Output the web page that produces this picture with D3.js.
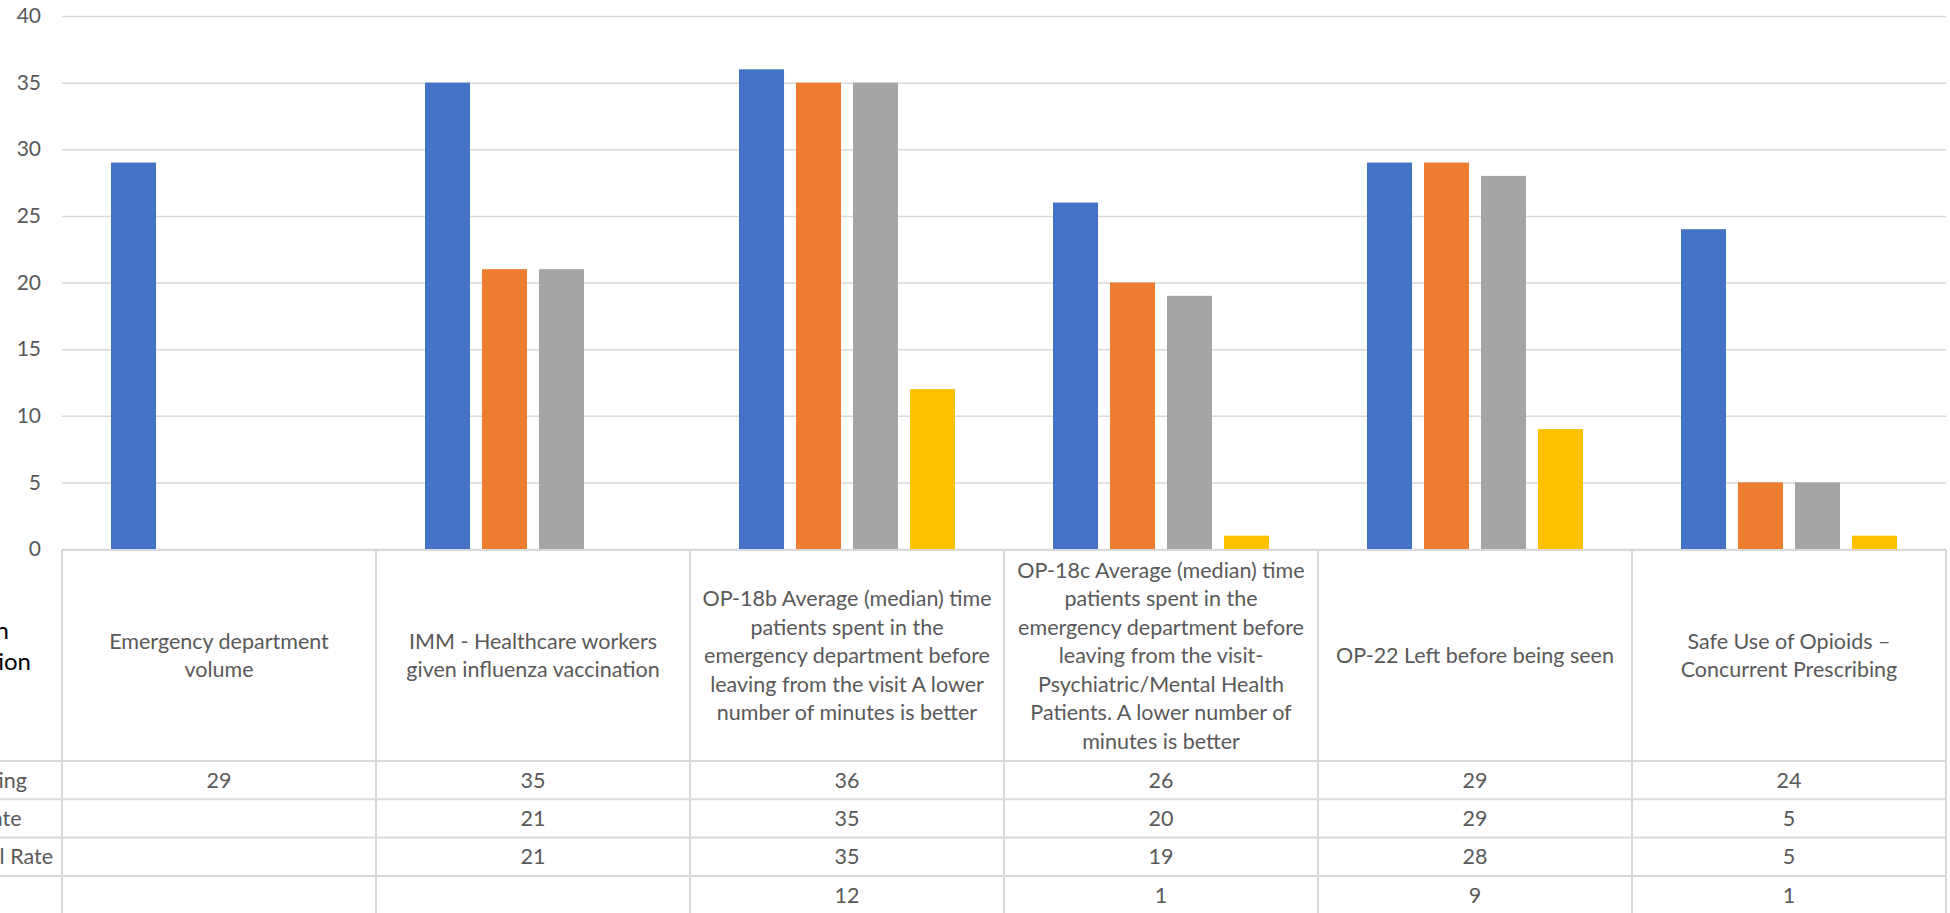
<!DOCTYPE html>
<html>
<head>
<meta charset="utf-8">
<script src="https://cdn.jsdelivr.net/npm/d3@7"></script>
<style>
  body { margin: 0; background: #fff; }
  svg { display: block; }
  text { font-family: Lato, "Open Sans", sans-serif; }
</style>
</head>
<body>
<div id="chart"></div>
<script>
// categories (header lines as wrapped in the data table)
const categories = [
  "Emergency department volume",
  "IMM - Healthcare workers given influenza vaccination",
  "OP-18b Average (median) time patients spent in the emergency department before leaving from the visit A lower number of minutes is better",
  "OP-18c Average (median) time patients spent in the emergency department before leaving from the visit-Psychiatric/Mental Health Patients.  A lower number of minutes is better",
  "OP-22 Left before being seen",
  "Safe Use of Opioids – Concurrent Prescribing"
];
const categoryLines = [
  ["Emergency department", "volume"],
  ["IMM - Healthcare workers", "given influenza vaccination"],
  ["OP-18b Average (median) time", "patients spent in the", "emergency department before", "leaving from the visit A lower", "number of minutes is better"],
  ["OP-18c Average (median) time", "patients spent in the", "emergency department before", "leaving from the visit-", "Psychiatric/Mental Health", "Patients.  A lower number of", "minutes is better"],
  ["OP-22 Left before being seen"],
  ["Safe Use of Opioids –", "Concurrent Prescribing"]
];

const seriesNames = ["Our Rating", "State Rate", "National Rate", "Best"];
const ourRating    = [29, 35, 36, 26, 29, 24];
const stateRate    = [null, 21, 35, 20, 29, 5];
const nationalRate = [null, 21, 35, 19, 28, 5];
const bestRate     = [null, null, 12, 1, 9, 1];
const yTicks = [0, 5, 10, 15, 20, 25, 30, 35, 40];
const headerTitle = ["Measure Domain", "Measure Description"];

const seriesColors = ["#4472C4", "#ED7D31", "#A5A5A5", "#FFC000"];
const seriesValues = [ourRating, stateRate, nationalRate, bestRate];

const width = 1950, height = 913;
const plotLeft = 62, plotRight = 1946;
const tableTop = 550, headerBottom = 761, rowH = 38.3;
const gridColor = "#D9D9D9";
const textColor = "#595959";

const svg = d3.select("#chart").append("svg")
  .attr("width", width)
  .attr("height", height);

const y = d3.scaleLinear().domain([0, 40]).range([549, 16]);
const x0 = d3.scaleBand().domain(categories).range([plotLeft, plotRight]);
const x1 = d3.scaleBand().domain(seriesNames)
  .range([0, x0.bandwidth()])
  .paddingInner(0.21)
  .paddingOuter(0.86);

// gridlines + y labels
const yAxis = svg.append("g")
  .attr("transform", `translate(${plotLeft},0)`)
  .call(d3.axisLeft(y).tickValues(yTicks).tickSize(-(plotRight - plotLeft)).tickPadding(21));
yAxis.select(".domain").remove();
yAxis.selectAll(".tick line").attr("stroke", gridColor).attr("stroke-width", 1.5);
yAxis.selectAll(".tick text")
  .attr("fill", textColor)
  .style("font-size", "21px");

// bars
const barData = [];
seriesNames.forEach((s, si) => {
  categories.forEach((c, ci) => {
    const v = seriesValues[si][ci];
    if (v != null) barData.push({ series: s, cat: c, value: v, color: seriesColors[si] });
  });
});

svg.append("g").selectAll("rect")
  .data(barData)
  .enter()
  .append("rect")
  .attr("x", d => x0(d.cat) + x1(d.series))
  .attr("y", d => y(d.value))
  .attr("width", x1.bandwidth())
  .attr("height", d => y(0) - y(d.value))
  .attr("fill", d => d.color);

// data table
const table = svg.append("g");
const rowLines = d3.range(seriesNames.length + 1).map(i => headerBottom + i * rowH);

table.append("line")
  .attr("x1", plotLeft).attr("x2", plotRight)
  .attr("y1", tableTop).attr("y2", tableTop);
table.selectAll(".hrow")
  .data(rowLines)
  .enter()
  .append("line")
  .attr("x1", 0).attr("x2", plotRight)
  .attr("y1", d => d).attr("y2", d => d);
table.selectAll(".vcol")
  .data(categories.map(c => x0(c)).concat([plotRight]))
  .enter()
  .append("line")
  .attr("x1", d => d).attr("x2", d => d)
  .attr("y1", tableTop).attr("y2", height);
table.selectAll("line").attr("stroke", gridColor).attr("stroke-width", 2);

// header labels
const lineH = 28.5;
const headerMid = (tableTop + headerBottom) / 2;
categories.forEach((c, ci) => {
  const lines = categoryLines[ci];
  const top = headerMid - (lines.length - 1) * lineH / 2;
  table.append("text")
    .attr("text-anchor", "middle")
    .attr("fill", textColor)
    .style("font-size", "21.5px")
    .selectAll("tspan")
    .data(lines)
    .enter()
    .append("tspan")
    .attr("x", x0(c) + x0.bandwidth() / 2)
    .attr("y", (d, i) => top + i * lineH)
    .attr("dy", "0.35em")
    .text(d => d);
});

// values
seriesNames.forEach((s, si) => {
  categories.forEach((c, ci) => {
    const v = seriesValues[si][ci];
    if (v == null) return;
    table.append("text")
      .attr("x", x0(c) + x0.bandwidth() / 2)
      .attr("y", rowLines[si] + rowH / 2)
      .attr("dy", "0.35em")
      .attr("text-anchor", "middle")
      .attr("fill", textColor)
      .style("font-size", "21.5px")
      .text(v);
  });
});

// row header column (mostly outside the visible area, like the reference crop)
const probe = table.append("text").style("font-size", "21.5px").text(seriesNames[2]);
const labelStart = 53 - probe.node().getComputedTextLength();
probe.remove();
seriesNames.forEach((s, si) => {
  table.append("text")
    .attr("x", labelStart)
    .attr("y", rowLines[si] + rowH / 2)
    .attr("dy", "0.35em")
    .attr("fill", textColor)
    .style("font-size", "21.5px")
    .text(s);
});

table.append("text")
  .attr("text-anchor", "end")
  .attr("fill", "#000")
  .style("font-size", "24px")
  .selectAll("tspan")
  .data(headerTitle)
  .enter()
  .append("tspan")
  .attr("x", (d, i) => i === 0 ? 9 : 31)
  .attr("y", (d, i) => 631 + i * 31)
  .attr("dy", "0.35em")
  .text(d => d);
</script>
</body>
</html>
